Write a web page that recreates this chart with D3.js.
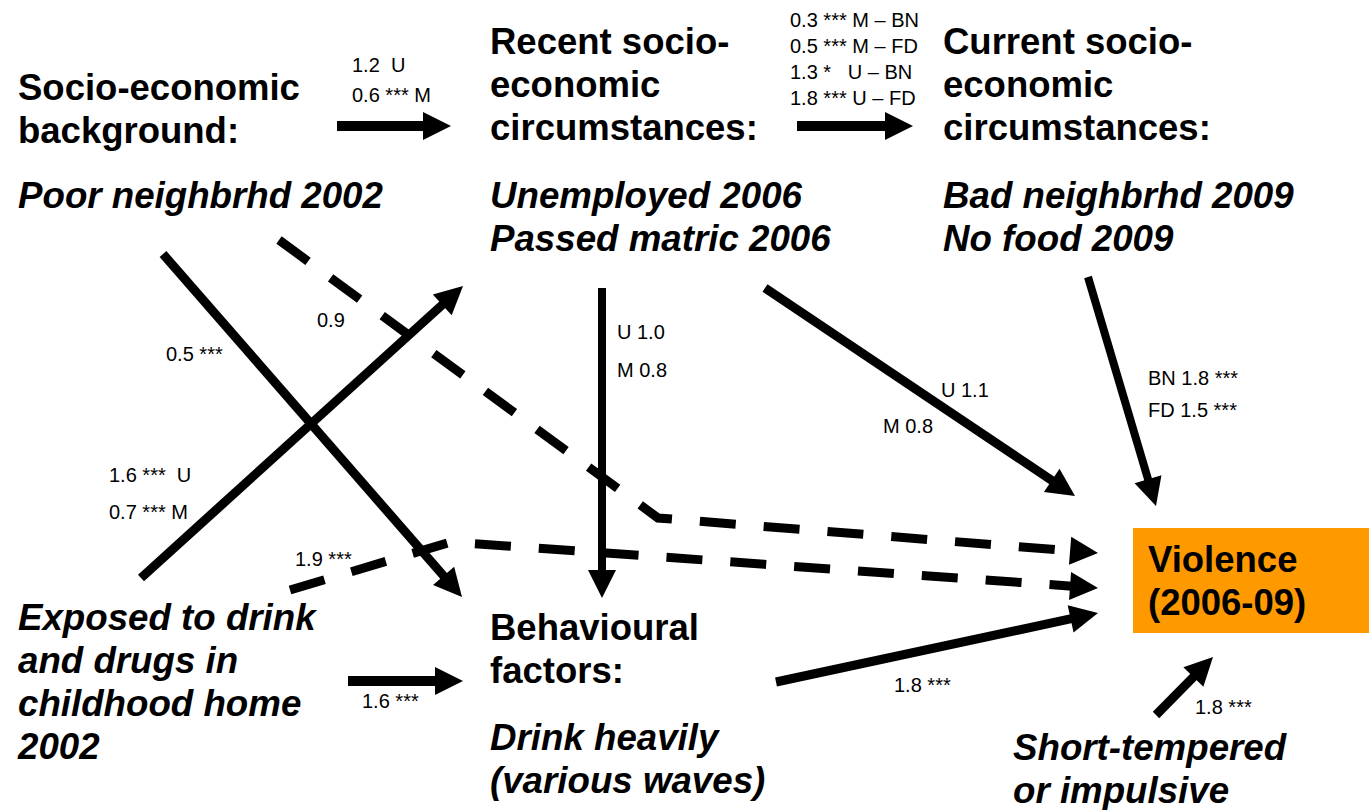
<!DOCTYPE html>
<html>
<head>
<meta charset="utf-8">
<script src="https://cdn.jsdelivr.net/npm/d3@7"></script>
<style>
  body { margin: 0; background: #fff; }
  text { font-family: "Liberation Sans", Arial, sans-serif; fill: #000; white-space: pre; }
  .title { font-size: 36.5px; font-weight: bold; }
  .measure { font-size: 36.7px; font-weight: bold; font-style: italic; }
  .coef { font-size: 20px; }
</style>
</head>
<body>
<div id="vis"></div>
<script>
// frame
const FRAME_WIDTH = 1369;
const FRAME_HEIGHT = 810;

// ---- text content of the diagram ----
const BACKGROUND_TITLE = ["Socio-economic", "background:"];
const BACKGROUND_MEASURES = ["Poor neighbrhd 2002"];
const RECENT_TITLE = ["Recent socio-", "economic", "circumstances:"];
const RECENT_MEASURES = ["Unemployed 2006", "Passed matric 2006"];
const CURRENT_TITLE = ["Current socio-", "economic", "circumstances:"];
const CURRENT_MEASURES = ["Bad neighbrhd 2009", "No food 2009"];
const BEHAV_TITLE = ["Behavioural", "factors:"];
const BEHAV_MEASURES = ["Drink heavily", "(various waves)"];
const EXPOSED_MEASURES = ["Exposed to drink", "and drugs in", "childhood home", "2002"];
const TEMPER_MEASURES = ["Short-tempered", "or impulsive"];
const OUTCOME_TITLE = ["Violence", "(2006-09)"];

// path names and their coefficient labels (odds ratios, stars)
const PATHS = ["bg-recent", "recent-current", "bg-behav", "exposed-recent", "bg-violence",
               "exposed-violence", "recent-behav", "recent-violence", "current-violence",
               "behav-violence", "exposed-behav", "temper-violence"];
const COEFS = [
  ["1.2  U", "0.6 *** M"],
  ["0.3 *** M \u2013 BN", "0.5 *** M \u2013 FD", "1.3 *   U \u2013 BN", "1.8 *** U \u2013 FD"],
  ["0.5 ***"],
  ["1.6 ***  U", "0.7 *** M"],
  ["0.9"],
  ["1.9 ***"],
  ["U 1.0", "M 0.8"],
  ["U 1.1", "M 0.8"],
  ["BN 1.8 ***", "FD 1.5 ***"],
  ["1.8 ***"],
  ["1.6 ***"],
  ["1.8 ***"]
];

// ---- layout (slide coordinates) ----
const BLOCKS = [
  {lines: BACKGROUND_TITLE, cls: "title", x: 18, y: 100},
  {lines: BACKGROUND_MEASURES, cls: "measure", x: 18, y: 208},
  {lines: RECENT_TITLE, cls: "title", x: 490, y: 54},
  {lines: RECENT_MEASURES, cls: "measure", x: 490, y: 208},
  {lines: CURRENT_TITLE, cls: "title", x: 943, y: 54},
  {lines: CURRENT_MEASURES, cls: "measure", x: 943, y: 208},
  {lines: BEHAV_TITLE, cls: "title", x: 490, y: 640},
  {lines: BEHAV_MEASURES, cls: "measure", x: 490, y: 750},
  {lines: EXPOSED_MEASURES, cls: "measure", x: 18, y: 630},
  {lines: TEMPER_MEASURES, cls: "measure", x: 1013, y: 760},
  {lines: OUTCOME_TITLE, cls: "title", x: 1148, y: 572}
];
const LINE_GAP = 43;

// route of each path (last point = arrow tip), whether dashed, label anchor
const ROUTES = [
  {pts: [[337,126],[451,126]], dash: false, lx: 352, ly: 72, gap: 30, w: 10},
  {pts: [[797,126],[913,126]], dash: false, lx: 790, ly: 27, gap: 26, w: 10},
  {pts: [[163,254],[462,597]], dash: false, lx: 166, ly: 361, gap: 0, w: 9},
  {pts: [[141,578],[463,286]], dash: false, lx: 109, ly: 482, gap: 37, w: 9},
  {pts: [[279,240],[658,518],[1098,553]], dash: true, lx: 317, ly: 327, gap: 0, w: 9},
  {pts: [[290,590],[451,542],[1098,588]], dash: true, lx: 295, ly: 566, gap: 0, w: 9},
  {pts: [[602,288],[602,598]], dash: false, lx: 617, ly: 339, gap: 38, w: 8},
  {pts: [[765,288],[1075,496]], dash: false, lx: 941, ly: 397, gap: 0, w: 9},
  {pts: [[1088,277],[1156,506]], dash: false, lx: 1148, ly: 385, gap: 32, w: 8},
  {pts: [[776,682],[1098,613]], dash: false, lx: 894, ly: 692, gap: 0, w: 9},
  {pts: [[348,681],[463,681]], dash: false, lx: 362, ly: 708, gap: 0, w: 10},
  {pts: [[1156,715],[1213,657]], dash: false, lx: 1195, ly: 714, gap: 0, w: 9}
];
// "U 1.1 / M 0.8" on recent-violence sit either side of the arrow
const LABEL_OFFSETS = {7: [[0,0],[-58,36]]};

const HEAD_LEN = 28;
const HEAD_HALF = 14;

// identity-like scales from slide coordinates to pixels
const X_SCALE = d3.scaleLinear().domain([0, 1369]).range([0, FRAME_WIDTH]);
const Y_SCALE = d3.scaleLinear().domain([0, 810]).range([0, FRAME_HEIGHT]);

const FRAME = d3.select("#vis")
  .append("svg")
    .attr("width", FRAME_WIDTH)
    .attr("height", FRAME_HEIGHT);

// orange outcome box
FRAME.append("rect")
  .attr("x", X_SCALE(1133))
  .attr("y", Y_SCALE(528))
  .attr("width", X_SCALE(1369) - X_SCALE(1133))
  .attr("height", Y_SCALE(633) - Y_SCALE(528))
  .attr("fill", "#ff9900");

// arrows
const line = d3.line().x(d => X_SCALE(d[0])).y(d => Y_SCALE(d[1]));

ROUTES.forEach((r, i) => {
  const pts = r.pts.map(p => p.slice());
  const tip = pts[pts.length - 1];
  const prev = pts[pts.length - 2];
  const dx = tip[0] - prev[0], dy = tip[1] - prev[1];
  const len = Math.sqrt(dx * dx + dy * dy);
  const ux = dx / len, uy = dy / len;
  const base = [tip[0] - ux * HEAD_LEN, tip[1] - uy * HEAD_LEN];
  const shaft = pts.slice(0, -1).concat([[base[0] + ux * 2, base[1] + uy * 2]]);

  FRAME.append("path")
    .attr("class", "edge " + PATHS[i])
    .attr("d", line(shaft))
    .attr("fill", "none")
    .attr("stroke", "#000")
    .attr("stroke-width", r.w)
    .attr("stroke-linejoin", "miter")
    .attr("stroke-dasharray", r.dash ? "36,28" : null);

  const head = [
    tip,
    [base[0] - uy * HEAD_HALF, base[1] + ux * HEAD_HALF],
    [base[0] + uy * HEAD_HALF, base[1] - ux * HEAD_HALF]
  ];
  FRAME.append("path")
    .attr("d", line(head) + "Z")
    .attr("fill", "#000");

  // coefficient labels
  COEFS[i].forEach((t, j) => {
    const off = LABEL_OFFSETS[i] ? LABEL_OFFSETS[i][j] : [0, j * r.gap];
    FRAME.append("text")
      .attr("class", "coef")
      .attr("x", X_SCALE(r.lx + off[0]))
      .attr("y", Y_SCALE(r.ly + off[1]))
      .text(t);
  });
});

// node texts
BLOCKS.forEach(b => {
  b.lines.forEach((t, j) => {
    FRAME.append("text")
      .attr("class", b.cls)
      .attr("x", X_SCALE(b.x))
      .attr("y", Y_SCALE(b.y + j * LINE_GAP))
      .text(t);
  });
});
</script>
</body>
</html>
